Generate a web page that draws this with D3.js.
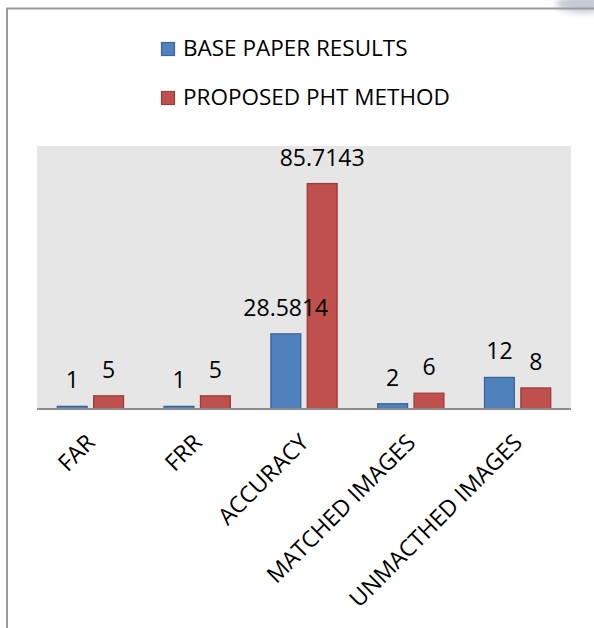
<!DOCTYPE html>
<html>
<head>
<meta charset="utf-8">
<script src="https://cdn.jsdelivr.net/npm/d3@7"></script>
<style>
  html, body { margin: 0; padding: 0; background: #fff; }
  svg { display: block; font-family: "Open Sans", "Liberation Sans", sans-serif; }
</style>
</head>
<body>
<svg id="chart" width="594" height="628"></svg>
<script>
// Metrics compared in the chart
const categories = ["FAR", "FRR", "ACCURACY", "MATCHED IMAGES", "UNMACTHED IMAGES"];
const seriesNames = ["BASE PAPER RESULTS", "PROPOSED PHT METHOD"];
const baseValues = [1, 1, 28.5814, 2, 12];
const proposedValues = [5, 5, 85.7143, 6, 8];
const seriesColors = ["#4F81BD", "#C0504D"];
const seriesStrokes = ["#3A659A", "#9A3C3A"];
const yDomain = [0, 100];

const svg = d3.select("#chart");

// Blurred corner shading at top right
const defs = svg.append("defs");
defs.append("filter").attr("id", "soft")
  .attr("x", "-50%").attr("y", "-50%").attr("width", "200%").attr("height", "200%")
  .append("feGaussianBlur").attr("stdDeviation", 3);
svg.append("ellipse")
  .attr("cx", 584).attr("cy", 4).attr("rx", 28).attr("ry", 9)
  .attr("fill", "#bfc6d2").attr("opacity", 0.9)
  .attr("filter", "url(#soft)");

// Outer frame (top and left edges)
svg.append("line").attr("x1", 6).attr("x2", 594).attr("y1", 8.5).attr("y2", 8.5)
  .attr("stroke", "#9a9a9a").attr("stroke-width", 2);
svg.append("line").attr("x1", 7).attr("x2", 7).attr("y1", 8).attr("y2", 628)
  .attr("stroke", "#9a9a9a").attr("stroke-width", 2);

const plot = { left: 37, right: 571, top: 146, bottom: 409 };

const x0 = d3.scaleBand()
  .domain(categories)
  .range([plot.left, plot.right])
  .paddingInner(0.38)
  .paddingOuter(0.19);

const x1 = d3.scaleBand()
  .domain(seriesNames)
  .range([0, x0.bandwidth()])
  .paddingInner(0.18);

const y = d3.scaleLinear().domain(yDomain).range([plot.bottom, plot.top]);

// Plot area background
svg.append("rect")
  .attr("x", plot.left).attr("y", plot.top)
  .attr("width", plot.right - plot.left).attr("height", plot.bottom - plot.top)
  .attr("fill", "#e6e6e6");

// Flattened bar records: one per category and series
const barData = [];
categories.forEach((c, i) => {
  [baseValues[i], proposedValues[i]].forEach((v, s) => barData.push({ c, v, s }));
});
const barX = d => x0(d.c) + x1(seriesNames[d.s]);

svg.append("g").selectAll("rect")
  .data(barData)
  .join("rect")
  .attr("x", barX)
  .attr("y", d => y(d.v))
  .attr("width", x1.bandwidth())
  .attr("height", d => y(0) - y(d.v))
  .attr("fill", d => seriesColors[d.s])
  .attr("stroke", d => seriesStrokes[d.s])
  .attr("stroke-width", 1.3);

// Value labels above every bar, drawn after all bars
svg.append("g").selectAll("text")
  .data(barData)
  .join("text")
  .attr("x", d => barX(d) + x1.bandwidth() / 2)
  .attr("y", d => y(d.v) - 18)
  .attr("text-anchor", "middle")
  .attr("font-size", 23)
  .attr("fill", "#000")
  .text(d => d3.format("")(d.v));

// Category axis
const xAxis = svg.append("g")
  .attr("transform", `translate(0,${plot.bottom})`)
  .call(d3.axisBottom(x0).tickSize(0).tickPadding(0));
xAxis.select(".domain")
  .attr("d", `M${plot.left},0H${plot.right}`)
  .attr("stroke", "#8c8c8c").attr("stroke-width", 2);
xAxis.selectAll(".tick text")
  .attr("font-family", "\"Open Sans\", sans-serif")
  .attr("font-size", 23)
  .attr("fill", "#000")
  .attr("text-anchor", "end")
  .attr("dy", 0)
  .attr("y", 0)
  .attr("transform", "translate(6,35) rotate(-45)");

// Legend
const legend = svg.append("g");
seriesNames.forEach((name, i) => {
  const baseY = 56 + i * 49;
  legend.append("rect")
    .attr("x", 161.5).attr("y", baseY - 13.5)
    .attr("width", 13).attr("height", 13)
    .attr("fill", seriesColors[i])
    .attr("stroke", seriesStrokes[i]).attr("stroke-width", 1.2);
  legend.append("text")
    .attr("x", 183).attr("y", baseY)
    .attr("font-size", 22.5)
    .attr("fill", "#000")
    .text(name);
});
</script>
</body>
</html>
